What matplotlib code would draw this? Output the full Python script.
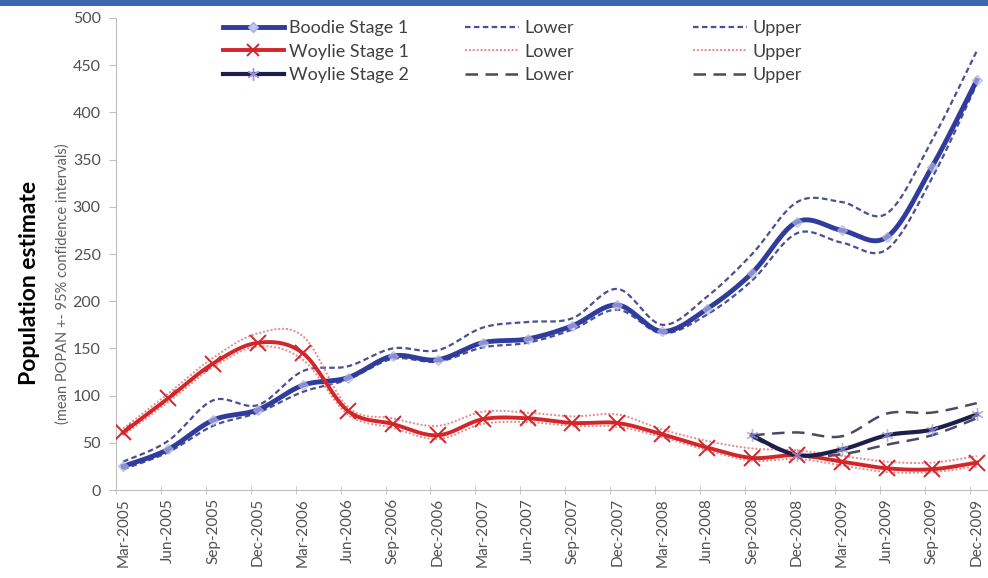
import numpy as np
import matplotlib
matplotlib.use("Agg")
import matplotlib.pyplot as plt
from matplotlib.lines import Line2D
from matplotlib.patches import Rectangle

plt.rcParams['font.family'] = ['Lato', 'DejaVu Sans']

# quarterly survey dates
quarters = ['Mar-2005', 'Jun-2005', 'Sep-2005', 'Dec-2005', 'Mar-2006', 'Jun-2006',
            'Sep-2006', 'Dec-2006', 'Mar-2007', 'Jun-2007', 'Sep-2007', 'Dec-2007',
            'Mar-2008', 'Jun-2008', 'Sep-2008', 'Dec-2008', 'Mar-2009', 'Jun-2009',
            'Sep-2009', 'Dec-2009']

# POPAN estimates with 95% CI
boodie1 = [25, 43, 74, 85, 111, 119, 142, 138, 156, 160, 174, 196, 168, 192, 230, 284, 275, 268, 342, 434]
boodie1_lo = [22, 40, 68, 82, 104, 117, 139, 136, 151, 156, 170, 191, 166, 186, 222, 272, 262, 255, 330, 430]
boodie1_hi = [30, 52, 95, 90, 126, 131, 150, 148, 172, 178, 182, 213, 175, 205, 250, 305, 305, 293, 370, 465]

woylie1 = [61, 97, 134, 156, 145, 84, 70, 58, 75, 76, 71, 71, 59, 45, 34, 37, 30, 23, 22, 29]
woylie1_lo = [58, 93, 130, 152, 138, 80, 66, 54, 70, 72, 68, 67, 56, 42, 31, 33, 26, 19, 19, 25]
woylie1_hi = [65, 102, 140, 166, 163, 88, 76, 68, 83, 82, 78, 80, 64, 52, 44, 42, 36, 30, 29, 36]

# stage 2 starts at Sep-2008
w2_start = 14
woylie2 = [58, 37, 43, 58, 64, 80]
woylie2_lo = [56, 36, 38, 48, 58, 76]
woylie2_hi = [58, 61, 57, 81, 82, 92]


def smooth(x, y, n=24):
    # Excel-style smoothed line: cubic Bezier segments with Catmull-Rom control points
    p = np.column_stack([x, y]).astype(float)
    out = []
    for i in range(len(p) - 1):
        p0 = p[max(i - 1, 0)]
        p1, p2 = p[i], p[i + 1]
        p3 = p[min(i + 2, len(p) - 1)]
        c1 = p1 + (p2 - p0) / 6
        c2 = p2 - (p3 - p1) / 6
        t = np.linspace(0, 1, n)[:, None]
        seg = (1 - t) ** 3 * p1 + 3 * (1 - t) ** 2 * t * c1 + 3 * (1 - t) * t ** 2 * c2 + t ** 3 * p2
        out.append(seg if i == 0 else seg[1:])
    s = np.vstack(out)
    return s[:, 0], s[:, 1]


x = np.arange(len(quarters))
x2 = x[w2_start:]

fig = plt.figure(figsize=(9.88, 5.78), dpi=100)
fig.add_artist(Rectangle((0, 0.99), 1, 0.01, transform=fig.transFigure, color='#3d66b0', lw=0))
ax = fig.add_axes([0.1174, 0.1522, 0.8826, 0.8167])

blue, red, navy = '#2f3c9e', '#d3262b', '#1e1e4a'
blue_ci, red_ci, navy_ci = '#4b4f93', '#e88a8a', '#4a4a66'
blue_mk = dict(marker='D', ms=5, mfc='#c4c6f0', mec='#a8abe3')
w2_mk = dict(marker=(6, 2, 0), ms=9, mew=1.0, mec='#9a96de')

# confidence bounds
ax.plot(*smooth(x, boodie1_lo), color=blue_ci, lw=1.6, ls=(0, (2.5, 1.5)))
ax.plot(*smooth(x, boodie1_hi), color=blue_ci, lw=1.6, ls=(0, (2.5, 1.5)))
ax.plot(*smooth(x, woylie1_lo), color=red_ci, lw=1.4, ls=(0, (1, 1)))
ax.plot(*smooth(x, woylie1_hi), color=red_ci, lw=1.4, ls=(0, (1, 1)))
ax.plot(*smooth(x2, woylie2_lo), color=navy_ci, lw=1.8, ls=(0, (5, 3)))
ax.plot(*smooth(x2, woylie2_hi), color=navy_ci, lw=1.8, ls=(0, (5, 3)))

# estimates
ax.plot(*smooth(x, boodie1), color=blue, lw=3.5, zorder=4)
ax.plot(x, boodie1, ls='none', alpha=0.6, zorder=5, **blue_mk)
ax.plot(*smooth(x, woylie1), color=red, lw=2.8, zorder=4)
ax.plot(x, woylie1, ls='none', marker='x', ms=11, mew=1.4, color=red, zorder=5)
ax.plot(*smooth(x2, woylie2), color=navy, lw=3, zorder=4)
ax.plot(x2, woylie2, ls='none', alpha=0.7, zorder=5, **w2_mk)

ax.set_ylim(0, 500)
ax.set_xlim(-0.13, 19.25)
ax.set_yticks(np.arange(0, 501, 50))
ax.set_xticks(x)
ax.set_xticklabels(quarters, rotation=90, fontsize=11, color='#505050')
ax.set_xticks(x - 0.16, minor=True)
ax.tick_params(axis='x', which='major', length=0, pad=6)
ax.tick_params(axis='x', which='minor', length=6, direction='inout', color='#bfbfbf')
ax.tick_params(axis='y', length=5, color='#bfbfbf', labelsize=11.5, labelcolor='#505050', pad=6)
for s in ['top', 'right']:
    ax.spines[s].set_visible(False)
for s in ['left', 'bottom']:
    ax.spines[s].set_color('#bfbfbf')

fig.text(0.030, 0.51, 'Population estimate', rotation=90, fontsize=16.5, fontweight='bold',
         ha='center', va='center')
fig.text(0.063, 0.51, '(mean POPAN +- 95% confidence intervals)', rotation=90, fontsize=10.5,
         color='#606060', ha='center', va='center')

# three-column legend, each column its own legend
col1 = [Line2D([], [], color=blue, lw=3.5, **blue_mk),
        Line2D([], [], color=red, lw=2.8, marker='x', ms=9, mew=1.4),
        Line2D([], [], color=navy, lw=3, **w2_mk)]
col2 = [Line2D([], [], color=blue_ci, lw=1.6, ls=(0, (2.5, 1.5))),
        Line2D([], [], color=red_ci, lw=1.4, ls=(0, (1, 1))),
        Line2D([], [], color=navy_ci, lw=1.8, ls=(0, (5, 3)))]
names = ['Boodie Stage 1', 'Woylie Stage 1', 'Woylie Stage 2']
legs = [(col1, names, 0.218, 3.4),
        (col2, ['Lower'] * 3, 0.463, 3.0),
        (col2, ['Upper'] * 3, 0.694, 3.0)]
for handles, labels, xpos, hl in legs:
    lg = fig.legend(handles, labels, loc='upper left', bbox_to_anchor=(xpos, 0.978),
                    frameon=False, fontsize=13, handlelength=hl, handletextpad=0.3,
                    labelspacing=0.42, borderaxespad=0)
    for t in lg.get_texts():
        t.set_color('#404040')

fig.savefig('out.png', dpi=100)
